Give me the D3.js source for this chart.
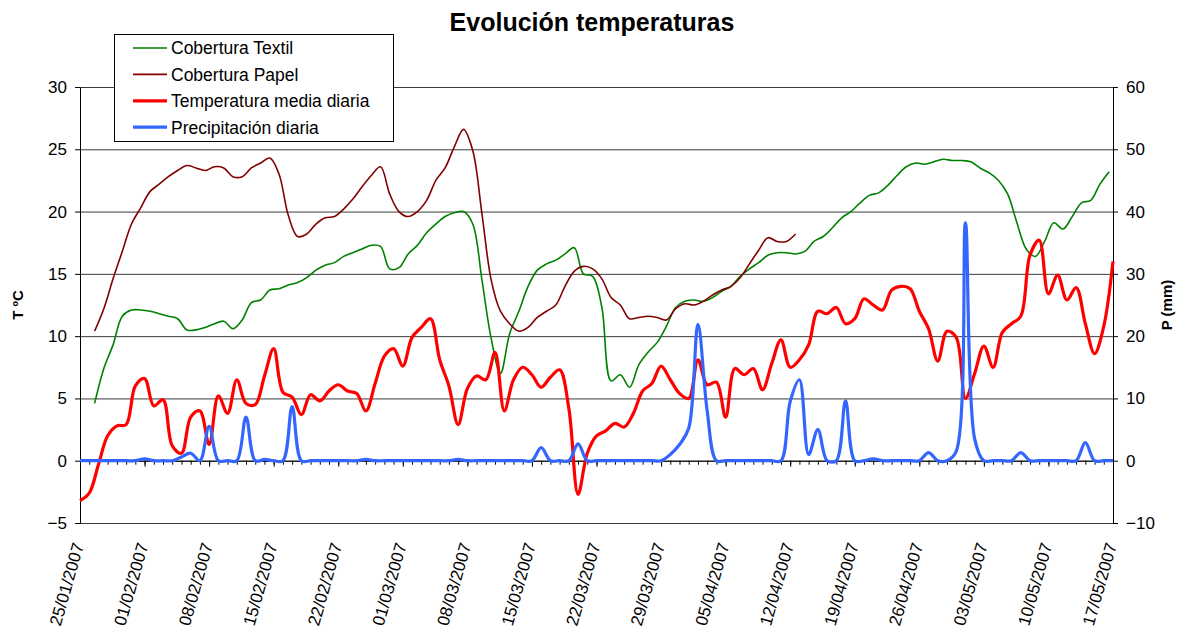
<!DOCTYPE html>
<html>
<head>
<meta charset="utf-8">
<script src="https://cdn.jsdelivr.net/npm/d3@7"></script>
<style>
	body { margin: 0; background: #fff; }
	svg { display: block; font-family: "Liberation Sans", Arial, sans-serif; }
</style>
</head>
<body>
<svg id="chart" width="1178" height="630"></svg>
<script>
(function(){
	///////////////////////////////////////////////////////////////////
	//// Data /////////////////////////////////////////////////////////
	///////////////////////////////////////////////////////////////////
	const startDate = "25/01/2007";
	const endDate = "17/05/2007";
	const sensorStart = "26/01/2007 14:00"; // first reading of both covers

	const weekLabels = ["25/01/2007", "01/02/2007", "08/02/2007", "15/02/2007", "22/02/2007",
		"01/03/2007", "08/03/2007", "15/03/2007", "22/03/2007", "29/03/2007", "05/04/2007",
		"12/04/2007", "19/04/2007", "26/04/2007", "03/05/2007", "10/05/2007", "17/05/2007"];

	const tempTicks = [-5, 0, 5, 10, 15, 20, 25, 30];
	const precipTicks = [-10, 0, 10, 20, 30, 40, 50, 60];

	// T ºC, one value per day from 25/01
	const tempMedia = [
		-3.2, -2.6, -0.3, 2.0, 2.8, 2.9, 6.0, 6.6, 4.4, 4.9,
		1.2, 0.6, 3.5, 4.0, 1.3, 5.2, 3.8, 6.5, 4.6, 4.5,
		6.8, 9.0, 5.5, 5.1, 3.7, 5.3, 4.8, 5.6, 6.1, 5.6,
		5.4, 4.0, 6.2, 8.4, 9.0, 7.6, 9.9, 10.7, 11.4, 8.1,
		6.0, 2.9, 5.8, 6.8, 6.5, 8.7, 4.0, 6.5, 7.5, 6.9,
		5.9, 6.7, 7.3, 4.2, -2.7, 0.6, 2.0, 2.4, 3.0, 2.7,
		3.8, 5.6, 6.2, 7.6, 6.5, 5.4, 5.0, 8.1, 6.1, 6.3,
		3.5, 7.4, 6.9, 7.4, 5.7, 7.8, 9.7, 7.5, 8.1, 9.3,
		12.0, 11.8, 12.3, 11.0, 11.4, 13.0, 12.5, 12.1, 13.7, 14.0,
		13.8, 12.0, 10.6, 8.0, 10.4, 9.9, 5.0, 7.0, 9.2, 7.5,
		10.3, 11.0, 11.6, 16.5, 17.7, 13.4, 14.9, 12.9, 13.9, 11.0,
		8.6, 10.8, 16.0
	];

	// P (mm), one value per day from 25/01
	const precip = [
		0, 0, 0, 0, 0, 0, 0, 0.3, 0, 0,
		0, 0.6, 1.2, 0, 5.5, 0, 0, 0, 7.0, 0,
		0.2, 0, 0, 8.7, 0, 0, 0, 0, 0, 0,
		0, 0.2, 0, 0, 0, 0, 0, 0, 0, 0,
		0, 0.2, 0, 0, 0, 0, 0, 0, 0, 0,
		2.1, 0, 0, 0, 2.7, 0, 0, 0, 0, 0,
		0, 0, 0, 0, 1.0, 2.6, 5.2, 21.9, 8.0, 0,
		0, 0, 0, 0, 0, 0, 0, 9.5, 13.0, 1.0,
		5.0, 0, 0, 9.6, 0, 0, 0.3, 0, 0, 0,
		0, 0, 1.3, 0, 0, 1.5, 38.2, 3.5, 0, 0,
		0, 0, 1.3, 0, 0, 0, 0, 0, 0, 2.9,
		0, 0, 0
	];

	// T ºC under textile cover, daily from sensorStart
	const textil = [
		4.6, 7.4, 9.3, 11.6, 12.1, 12.1, 12.0, 11.8, 11.6, 11.4,
		10.5, 10.5, 10.7, 11.0, 11.2, 10.6, 11.3, 12.7, 12.9, 13.7,
		13.8, 14.1, 14.3, 14.7, 15.3, 15.7, 15.9, 16.4, 16.7, 17.0,
		17.3, 17.2, 15.4, 15.5, 16.6, 17.3, 18.3, 19.0, 19.6, 19.9,
		20.0, 19.0, 14.5, 9.8, 7.0, 10.2, 12.0, 14.0, 15.3, 15.8,
		16.1, 16.6, 17.1, 15.0, 14.8, 12.3, 6.4, 6.9, 5.9, 7.7,
		8.7, 9.5, 10.8, 12.3, 12.8, 12.9, 12.8, 13.1, 13.6, 14.0,
		14.8, 15.4, 15.9, 16.5, 16.7, 16.7, 16.6, 16.8, 17.6, 18.0,
		18.7, 19.5, 20.0, 20.7, 21.3, 21.5, 22.1, 22.9, 23.6, 23.9,
		23.8, 24.0, 24.2, 24.1, 24.1, 24.0, 23.5, 23.1, 22.5, 21.4,
		19.1, 17.0, 16.4, 17.6, 19.1, 18.6, 19.6, 20.7, 20.9, 22.2,
		23.2
	];

	// T ºC under paper cover, daily from sensorStart
	const papel = [
		10.4, 12.2, 14.6, 16.8, 19.0, 20.3, 21.6, 22.2, 22.8, 23.3,
		23.7, 23.5, 23.3, 23.6, 23.5, 22.8, 22.8, 23.5, 23.9, 24.3,
		23.0, 19.7, 18.0, 18.2, 19.0, 19.5, 19.6, 20.2, 21.0, 22.0,
		22.9, 23.6, 21.4, 20.0, 19.6, 20.0, 20.9, 22.5, 23.5, 25.2,
		26.6, 24.9, 19.8, 14.5, 12.0, 11.0, 10.4, 10.7, 11.5, 12.0,
		12.5, 14.0, 15.2, 15.6, 15.4, 14.6, 13.1, 12.5, 11.4, 11.5,
		11.6, 11.5, 11.3, 12.2, 12.6, 12.5, 12.8, 13.3, 13.7, 14.0,
		14.7, 15.8, 16.9, 17.9, 17.6, 17.6, 18.2
	];

	///////////////////////////////////////////////////////////////////
	//// Inital Set Up ////////////////////////////////////////////////
	///////////////////////////////////////////////////////////////////
	const width = 1033;
	const height = 436;
	const margin = {top: 87, left: 80};

	const parseDay = d3.utcParse("%d/%m/%Y");
	const parseTime = d3.utcParse("%d/%m/%Y %H:%M");

	const first = parseDay(startDate);
	const last = parseDay(endDate);
	const days = d3.utcDay.range(first, d3.utcDay.offset(last, 1));
	const sensor0 = parseTime(sensorStart);

	// Scales
	const x = d3.scaleUtc()
			.domain([first, last])
			.range([0, width]);

	const yT = d3.scaleLinear()
			.domain([-5, 30])
			.range([height, 0]);

	const yP = d3.scaleLinear()
			.domain([-10, 60])
			.range([height, 0]);

	const series = [
		{name: "Cobertura Textil", color: "#008000", stroke: 1.6, y: yT,
			values: textil.map((v, i) => ({date: d3.utcDay.offset(sensor0, i), value: v}))},
		{name: "Cobertura Papel", color: "#800000", stroke: 1.6, y: yT,
			values: papel.map((v, i) => ({date: d3.utcDay.offset(sensor0, i), value: v}))},
		{name: "Temperatura media diaria", color: "#ff0000", stroke: 3.2, y: yT,
			values: tempMedia.map((v, i) => ({date: days[i], value: v}))},
		{name: "Precipitación diaria", color: "#3366ff", stroke: 3.2, y: yP,
			values: precip.map((v, i) => ({date: days[i], value: v}))}
	];

	const svg = d3.select("#chart");

	const g = svg.append("g")
			.attr("transform", `translate(${margin.left}, ${margin.top})`);

	///////////////////////////////////////////////////////////////////
	//// Title ////////////////////////////////////////////////////////
	///////////////////////////////////////////////////////////////////
	svg.append("text")
			.attr("x", 592)
			.attr("y", 31)
			.attr("text-anchor", "middle")
			.style("font-size", "25px")
			.style("font-weight", "bold")
			.text("Evolución temperaturas");

	///////////////////////////////////////////////////////////////////
	//// Grid and axes ////////////////////////////////////////////////
	///////////////////////////////////////////////////////////////////
	g.append("g")
			.attr("class", "grid")
			.call(d3.axisLeft(yT).tickValues(tempTicks).tickSize(-width).tickFormat(""))
			.call(s => s.select(".domain").remove())
			.call(s => s.selectAll("line").attr("stroke", "#3c3c3c"));

	g.append("g")
			.attr("class", "axis y-axis")
			.call(d3.axisLeft(yT).tickValues(tempTicks).tickSize(5).tickSizeOuter(0).tickPadding(8))
			.call(s => s.selectAll("text").style("font-size", "17px").attr("fill", "#000"));

	g.append("g")
			.attr("class", "axis y-axis-right")
			.attr("transform", `translate(${width}, 0)`)
			.call(d3.axisRight(yP).tickValues(precipTicks).tickSize(5).tickSizeOuter(0).tickPadding(8))
			.call(s => s.selectAll("text").style("font-size", "17px").attr("fill", "#000"));

	// category axis crossing at 0, daily minor ticks and weekly major ticks
	const xAxisG = g.append("g")
			.attr("class", "axis x-axis")
			.attr("transform", `translate(0, ${yT(0)})`);

	xAxisG.append("g")
			.call(d3.axisBottom(x).tickValues(days).tickSize(4).tickSizeOuter(0).tickFormat(""));

	xAxisG.append("g")
			.call(d3.axisBottom(x).tickValues(weekLabels.map(parseDay)).tickSize(6).tickSizeOuter(0).tickFormat(""))
			.call(s => s.select(".domain").remove());

	g.append("g")
			.attr("class", "x-labels")
		.selectAll("text")
		.data(weekLabels)
		.enter().append("text")
			.attr("transform", d => `translate(${x(parseDay(d)) + 4}, ${height + 22}) rotate(-74)`)
			.attr("text-anchor", "end")
			.style("font-size", "17px")
			.text(d => d);

	// axis titles
	svg.append("text")
			.attr("transform", "translate(23, 305) rotate(-90)")
			.attr("text-anchor", "middle")
			.style("font-size", "15px")
			.style("font-weight", "bold")
			.text("T ºC");

	svg.append("text")
			.attr("transform", "translate(1172, 305) rotate(-90)")
			.attr("text-anchor", "middle")
			.style("font-size", "15px")
			.style("font-weight", "bold")
			.text("P (mm)");

	///////////////////////////////////////////////////////////////////
	//// Lines ////////////////////////////////////////////////////////
	///////////////////////////////////////////////////////////////////
	g.selectAll(".line")
		.data(series)
		.enter().append("path")
			.attr("class", "line")
			.attr("d", s => d3.line()
				.curve(d3.curveCatmullRom.alpha(0.5))
				.x(d => x(d.date))
				.y(d => s.y(d.value))(s.values))
			.style("stroke", s => s.color)
			.style("stroke-width", s => s.stroke)
			.style("stroke-linejoin", "round")
			.style("fill", "none");

	///////////////////////////////////////////////////////////////////
	//// Legend ///////////////////////////////////////////////////////
	///////////////////////////////////////////////////////////////////
	const legend = svg.append("g")
			.attr("class", "legend")
			.attr("transform", "translate(114, 34)");

	legend.append("rect")
			.attr("x", 0.5)
			.attr("y", 0.5)
			.attr("width", 279)
			.attr("height", 107)
			.style("fill", "#fff")
			.style("stroke", "#000");

	const item = legend.selectAll(".item")
		.data(series)
		.enter().append("g")
			.attr("class", "item")
			.attr("transform", (d, i) => `translate(0, ${14 + i * 26.4})`);

	item.append("line")
			.attr("x1", 19)
			.attr("x2", 53)
			.style("stroke", d => d.color)
			.style("stroke-width", d => d.stroke);

	item.append("text")
			.attr("x", 57)
			.attr("dy", "0.36em")
			.style("font-size", "17.5px")
			.text(d => d.name);
}());
</script>
</body>
</html>
